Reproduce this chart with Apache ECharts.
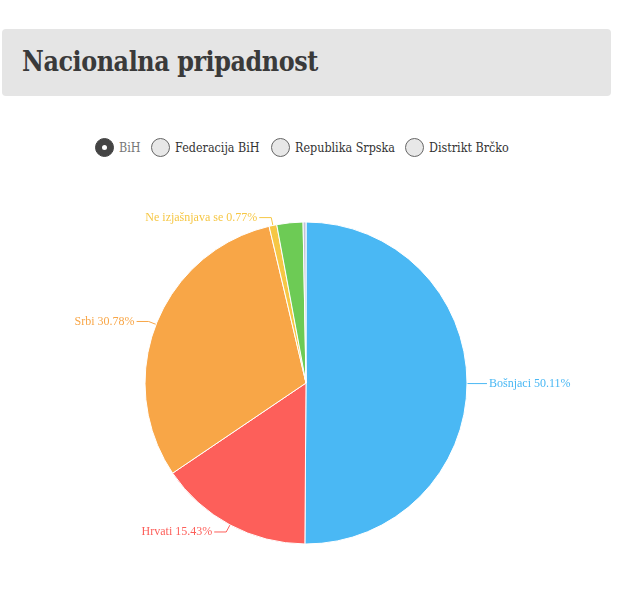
<!DOCTYPE html>
<html>
<head>
<meta charset="utf-8">
<script src="https://cdn.jsdelivr.net/npm/echarts@6/dist/echarts.min.js"></script>
<style>
    body { margin: 0; background: #fff; font-family: "DejaVu Serif", serif; }
    .header {
        position: absolute; left: 2px; top: 29px; width: 609px; height: 67px;
        background: #e5e5e5; border-radius: 4px;
    }
    .header h2 {
        margin: 0; position: absolute; left: 20px; top: 17px;
        font-size: 27px; font-weight: bold; color: #3a3a3a; letter-spacing: -0.5px;
        font-family: "DejaVu Serif", serif; transform: scaleX(0.885); transform-origin: left;
    }
    .dot {
        position: absolute; top: 138px; width: 19px; height: 19px; border-radius: 50%; border: 1px solid #666;
        background: #e8e8e8; box-sizing: border-box;
    }
    .dot.on { background: #444; border-color: #444; }
    .dot.on::after {
        content: ""; position: absolute; left: 6px; top: 6px; width: 5px; height: 5px; border-radius: 50%; background: #fff;
    }
    .lbl {
        position: absolute; top: 139px; font-size: 13px; line-height: 17px; color: #333; white-space: nowrap;
        transform: scaleX(0.86); transform-origin: left;
    }
    #chart { position: absolute; left: 0; top: 170px; width: 618px; height: 420px; }
</style>
</head>
<body>
<div class="header"><h2>Nacionalna pripadnost</h2></div>
<div id="radios"></div>
<div id="chart"></div>
<script>
    // podaci
    const regions = ['BiH', 'Federacija BiH', 'Republika Srpska', 'Distrikt Brčko'];
    const groups = ['Bošnjaci', 'Hrvati', 'Srbi', 'Ne izjašnjava se', 'Ostali', 'Nepoznato'];
    const shares = [50.11, 15.43, 30.78, 0.77, 2.62, 0.29];
    const colors = ['#4ab8f4', '#fd5f5a', '#f8a647', '#f6c745', '#6dcb55', '#c3c1d8'];
    const showLabel = [true, true, true, true, false, false];

    // raspored radio dugmadi (lijevo)
    const radioLeft = [95, 151, 271, 405];
    let html = '';
    regions.forEach((r, i) => {
        html += '<span class="dot' + (i === 0 ? ' on' : '') + '" style="left:' + radioLeft[i] + 'px"></span>' +
            '<span class="lbl" style="left:' + (radioLeft[i] + 24) + 'px;color:' + (i === 0 ? '#777' : '#333') + '">' + r + '</span>';
    });
    document.getElementById('radios').innerHTML = html;

    var myChart = echarts.init(document.getElementById('chart'));
    myChart.setOption({
        animation: false,
        series: [{
            type: 'pie',
            center: [306, 213],
            radius: [0, 161],
            startAngle: 90,
            clockwise: true,
            avoidLabelOverlap: true,
            itemStyle: { borderColor: '#fff', borderWidth: 1 },
            label: {
                fontFamily: 'Liberation Serif',
                fontSize: 12,
                distanceToLabelLine: 2,
                formatter: (p) => p.name + ' ' + p.value.toFixed(2) + '%'
            },
            labelLine: { length: 8, length2: 12, lineStyle: { width: 1 } },
            data: groups.map((g, i) => ({
                name: g,
                value: shares[i],
                itemStyle: { color: colors[i] },
                label: { show: showLabel[i], color: colors[i] },
                labelLine: { show: showLabel[i] }
            }))
        }]
    });
</script>
</body>
</html>
